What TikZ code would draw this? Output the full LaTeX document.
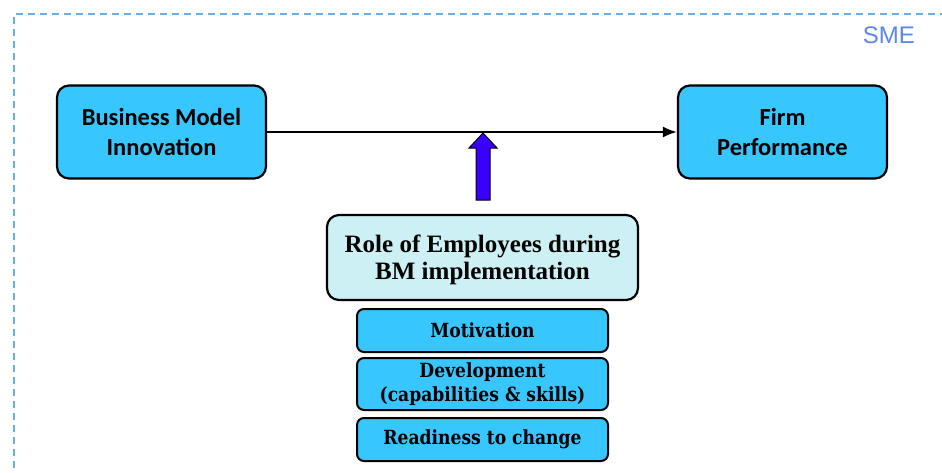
\documentclass[tikz,border=0pt]{standalone}
\usepackage{fontspec}
\setmainfont{Carlito}
\newfontfamily\rolefont{Liberation Serif}
\newfontfamily\itemfont[FakeStretch=0.88]{DejaVu Serif}
\newfontfamily\smefont{Liberation Sans}
\usetikzlibrary{arrows.meta}
\definecolor{boxcyan}{HTML}{38C6FE}
\definecolor{lightcyan}{HTML}{CDF0F4}
\definecolor{framblue}{HTML}{6AAEE8}
\definecolor{smeblue}{HTML}{5A86EE}
\definecolor{arrowblue}{HTML}{3A00FF}
\tikzset{
  mainbox/.style={draw=black, line width=2.2pt, rounded corners=12pt, fill=boxcyan, align=center,
    font=\fontsize{24.5}{30}\selectfont\bfseries},
  rolebox/.style={draw=black, line width=2.2pt, rounded corners=12pt, fill=lightcyan, align=center,
    font=\rolefont\fontsize{25}{27}\selectfont\bfseries},
  itembox/.style={draw=black, line width=2pt, rounded corners=7pt, fill=boxcyan, align=center,
    font=\itemfont\fontsize{19.5}{24}\selectfont\bfseries},
}
\begin{document}
\begin{tikzpicture}[x=1pt,y=-1pt]
\useasboundingbox (0,0) rectangle (942,472);
% frame
\draw[framblue, line width=2pt, dash pattern=on 7pt off 5pt] (14,480) -- (14,14) -- (950,14);
\node[text=smeblue, font=\smefont\fontsize{24}{24}\selectfont, anchor=east, inner sep=0pt] (sme) at (915,35) {SME};
% main boxes
\node[mainbox, minimum width=209pt, minimum height=93pt] (bmi) at (161.5,132) {Business Model\\Innovation};
\node[mainbox, minimum width=209pt, minimum height=93pt] (fp) at (782.5,132) {Firm\\Performance};
\draw[black, line width=2pt, -{Latex[length=14pt,width=11pt]}] (bmi.east) -- (fp.west);
% block arrow
\draw[black, line width=1pt, fill=arrowblue] (483,133) -- (497,148) -- (490,148) -- (490,200) -- (476,200) -- (476,148) -- (469,148) -- cycle;
% role box
\node[rolebox, minimum width=311pt, minimum height=85pt, text depth=0pt] (role) at (482.5,257.5) {Role of Employees during\\BM implementation};
% items
\node[itembox, minimum width=251pt, minimum height=43pt] (mot) at (482.5,330.5) {Motivation};
\node[itembox, minimum width=251pt, minimum height=52pt] (dev) at (482.5,384) {Development\\(capabilities \& skills)};
\node[itembox, minimum width=251pt, minimum height=43pt] (ready) at (482.5,439.5) {Readiness to change};
\end{tikzpicture}
\end{document}
